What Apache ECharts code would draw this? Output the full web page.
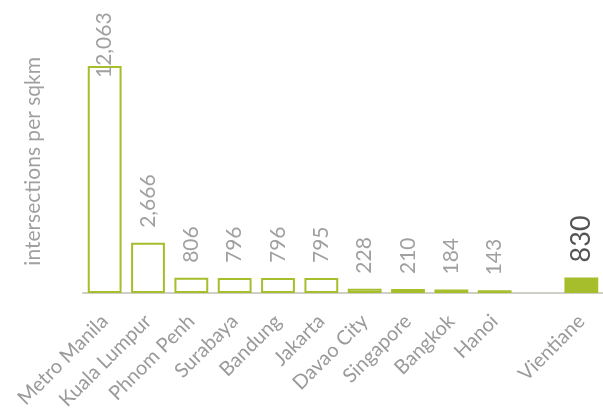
<!DOCTYPE html>
<html><head><meta charset="utf-8">
<script src="https://cdn.jsdelivr.net/npm/echarts@6/dist/echarts.min.js"></script>
<style>html,body{margin:0;padding:0;background:#fff}#c{width:603px;height:416px}</style>
</head><body><div id="c"></div>
<script>
const categories = ['Metro Manila','Kuala Lumpur','Phnom Penh','Surabaya','Bandung','Jakarta','Davao City','Singapore','Bangkok','Hanoi','','Vientiane'];
const values = [12063, 2666, 806, 796, 796, 795, 228, 210, 184, 143, null, 830];
const highlight = 'Vientiane';
const yName = 'intersections per sqkm';

const green = '#a6bd2c';
const FONT = 'Lato, "DejaVu Sans", sans-serif';
const data = values.map((v, i) => {
  if (v === null) return '-';
  const item = { value: v };
  if (categories[i] === highlight) {
    item.itemStyle = { color: green, borderColor: green };
    item.label = { color: '#555', fontSize: 27 };
  }
  if (i === 0) {
    item.label = { position: ['50%', 12], distance: 0 };
  }
  return item;
});

const chart = echarts.init(document.getElementById('c'), null, { renderer: 'canvas' });
chart.setOption({
  animation: false,
  grid: { left: 83, right: 0, top: 29.6, bottom: 123, containLabel: false },
  xAxis: {
    type: 'category', data: categories,
    axisLine: { lineStyle: { color: '#cfcfc8', width: 2 } },
    axisTick: { show: false },
    axisLabel: { rotate: 45, interval: 0, color: '#9a9a9a', fontSize: 20, fontFamily: FONT, margin: 25 }
  },
  yAxis: {
    type: 'value', min: 0, max: 14000,
    name: yName, nameLocation: 'middle', nameGap: 39,
    nameTextStyle: { color: '#a0a0a0', fontSize: 21, fontFamily: FONT },
    axisLine: { show: false }, axisTick: { show: false }, axisLabel: { show: false }, splitLine: { show: false }
  },
  series: [{
    type: 'bar', data: data, barWidth: '78%',
    itemStyle: { color: '#fff', borderColor: green, borderWidth: 2 },
    label: {
      show: true, position: 'top', rotate: 90, distance: 15, align: 'left', verticalAlign: 'middle',
      color: '#a0a0a0', fontSize: 21, fontFamily: FONT,
      formatter: p => p.value.toLocaleString('en-US')
    }
  }]
});
</script></body></html>
